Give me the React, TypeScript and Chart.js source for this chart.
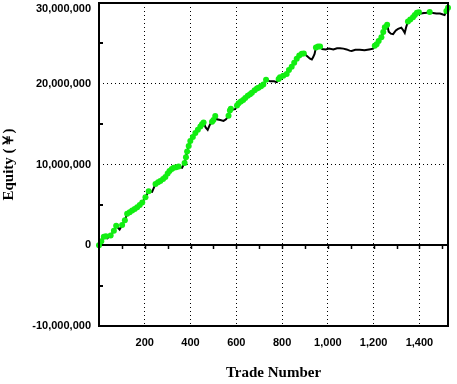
import React, { useEffect, useRef } from "react";
import { Chart, registerables } from "chart.js";

Chart.register(...registerables);

// Trade number for each sampled equity reading
const tradeNumbers = [
  0, 10, 21, 30, 36, 51, 65, 75, 90, 101, 113, 123, 134, 145, 156, 167, 178, 189, 203, 217,
  232, 247, 258, 268, 280, 290, 300, 308, 318, 326, 337, 348, 363, 374, 380, 385, 392, 399, 410, 421,
  432, 443, 450, 457, 466, 475, 484, 494, 500, 508, 515, 530, 544, 555, 566, 572, 576, 585, 595, 603,
  610, 620, 630, 639, 650, 660, 668, 680, 690, 697, 708, 718, 730, 748, 765, 777, 785, 791, 805, 820,
  830, 842, 853, 864, 875, 886, 895, 910, 922, 930, 936, 942, 948, 957, 966, 975, 990, 1005, 1024, 1040,
  1053, 1068, 1082, 1095, 1104, 1120, 1140, 1160, 1180, 1198, 1205, 1213, 1222, 1234, 1242, 1249, 1259, 1266, 1275, 1285,
  1297, 1307, 1321, 1330, 1336, 1342, 1350, 1360, 1372, 1380, 1389, 1398, 1408, 1420, 1432, 1445, 1460, 1474, 1490, 1500,
  1510, 1518, 1525,
];

// Cumulative equity (yen)
const equity = [
  0, 0.5e6, 1.05e6, 1.1e6, 0.85e6, 1.2e6, 1.8e6, 2.4e6, 1.95e6, 2.5e6, 3.1e6, 3.9e6, 4.1e6, 4.3e6, 4.5e6, 4.7e6, 5.0e6, 5.3e6, 5.95e6, 6.7e6,
  6.6e6, 7.6e6, 7.8e6, 7.95e6, 8.2e6, 8.45e6, 8.9e6, 9.2e6, 9.45e6, 9.6e6, 9.65e6, 9.75e6, 9.6e6, 10.2e6, 10.9e6, 11.6e6, 12.3e6, 12.9e6, 13.4e6, 13.9e6,
  14.3e6, 14.7e6, 15.0e6, 15.2e6, 14.6e6, 14.3e6, 14.9e6, 15.3e6, 15.5e6, 16.0e6, 15.6e6, 15.5e6, 15.4e6, 15.6e6, 16.05e6, 16.7e6, 16.9e6, 16.8e6, 16.85e6, 17.3e6,
  17.6e6, 17.8e6, 18.0e6, 18.25e6, 18.5e6, 18.7e6, 18.9e6, 19.2e6, 19.4e6, 19.5e6, 19.7e6, 19.9e6, 20.5e6, 20.3e6, 20.3e6, 20.2e6, 20.6e6, 20.8e6, 21.0e6, 21.2e6,
  21.7e6, 22.1e6, 22.6e6, 23.1e6, 23.5e6, 23.7e6, 23.75e6, 23.4e6, 23.1e6, 23.0e6, 23.3e6, 23.7e6, 24.5e6, 24.6e6, 24.62e6, 24.3e6, 24.25e6, 24.35e6, 24.25e6, 24.4e6,
  24.4e6, 24.35e6, 24.25e6, 24.1e6, 24.05e6, 24.2e6, 24.2e6, 24.15e6, 24.25e6, 24.35e6, 24.7e6, 24.9e6, 25.3e6, 25.75e6, 26.4e6, 27.0e6, 27.3e6, 26.45e6, 26.2e6, 26.15e6,
  26.6e6, 26.8e6, 26.95e6, 26.6e6, 26.3e6, 27.0e6, 27.7e6, 27.95e6, 28.25e6, 28.5e6, 28.8e6, 28.85e6, 28.7e6, 28.75e6, 28.8e6, 28.9e6, 28.75e6, 28.7e6, 28.7e6, 28.6e6,
  28.5e6, 29.0e6, 29.4e6,
];

const xTickValues = [200, 400, 600, 800, 1000, 1200, 1400];
const yTickValues = [-10000000, 0, 10000000, 20000000, 30000000];
const yMinorTicks = [-5000000, 5000000, 15000000, 25000000];
const X_MIN = 0;
const X_MAX = 1525;
const Y_MIN = -10000000;
const Y_MAX = 30000000;

const xTitle = "Trade Number";
const yTitle = "Equity (￥)";

const GREEN = "#12ee12";
const LABEL_FONT = "bold 11px 'Liberation Sans', Arial, sans-serif";
const TITLE_FONT = { family: "'Liberation Serif', 'Times New Roman', serif", weight: "bold", size: 15 };

const fmt = (v: number) => Math.round(v).toLocaleString("en-US");

const framePlugin = {
  id: "frame",
  beforeDatasetsDraw(chart: any) {
    const { ctx, chartArea } = chart;
    const xs = chart.scales.x;
    const ys = chart.scales.y;
    ctx.save();
    ctx.strokeStyle = "#000";
    // zero line
    const y0 = Math.round(ys.getPixelForValue(0));
    ctx.lineWidth = 2;
    ctx.beginPath();
    ctx.moveTo(chartArea.left, y0);
    ctx.lineTo(chartArea.right, y0);
    ctx.stroke();
    // zero-line tick marks every 100 trades
    ctx.lineWidth = 1.5;
    for (let t = 100; t < X_MAX; t += 100) {
      const px = Math.round(xs.getPixelForValue(t)) + 0.5;
      ctx.beginPath();
      ctx.moveTo(px, y0 - 1);
      ctx.lineTo(px, y0 + 4);
      ctx.stroke();
    }
    // minor ticks on left axis
    ctx.lineWidth = 2;
    for (const v of yMinorTicks) {
      const py = Math.round(ys.getPixelForValue(v));
      ctx.beginPath();
      ctx.moveTo(chartArea.left, py);
      ctx.lineTo(chartArea.left + 4, py);
      ctx.stroke();
    }
    ctx.restore();
  },
  afterDraw(chart: any) {
    const { ctx, chartArea } = chart;
    const ys = chart.scales.y;
    ctx.save();
    ctx.strokeStyle = "#000";
    ctx.lineWidth = 2;
    ctx.strokeRect(chartArea.left, chartArea.top, chartArea.right - chartArea.left, chartArea.bottom - chartArea.top);
    // y tick labels
    ctx.fillStyle = "#000";
    ctx.font = LABEL_FONT;
    ctx.textAlign = "right";
    ctx.textBaseline = "middle";
    for (const t of ys.ticks) {
      let py = ys.getPixelForValue(t.value);
      if (py < 9) py = 9;
      if (py > chart.height - 7) py = chart.height - 7;
      ctx.fillText(fmt(t.value), chartArea.left - 8, py);
    }
    ctx.restore();
  },
};

export default function App() {
  const ref = useRef<HTMLCanvasElement>(null);

  useEffect(() => {
    document.body.style.margin = "0";
    const canvas = ref.current;
    if (!canvas) return;

    let runMax = -Infinity;
    const radii = equity.map((v) => {
      if (v >= runMax) {
        runMax = v;
        return 3;
      }
      return 0;
    });

    const chart = new Chart(canvas, {
      type: "line",
      data: {
        datasets: [
          {
            data: tradeNumbers.map((x, i) => ({ x, y: equity[i] })),
            borderColor: "#000",
            borderWidth: 2,
            tension: 0,
            pointRadius: radii,
            pointHoverRadius: radii,
            pointBackgroundColor: GREEN,
            pointBorderWidth: 0,
            clip: false as any,
          },
        ],
      },
      options: {
        responsive: false,
        animation: false,
        events: [],
        layout: { padding: { left: 0, top: 3, right: 9, bottom: 0 } },
        plugins: {
          legend: { display: false },
          tooltip: { enabled: false },
        },
        scales: {
          x: {
            type: "linear",
            min: X_MIN,
            max: X_MAX,
            afterBuildTicks: (s: any) => {
              s.ticks = xTickValues.map((v) => ({ value: v }));
            },
            ticks: {
              padding: 10,
              color: "#000",
              autoSkip: false,
              maxRotation: 0,
              font: { family: "'Liberation Sans', Arial, sans-serif", weight: "bold", size: 11 },
              callback: (v: any) => fmt(Number(v)),
            },
            grid: { color: "#000", lineWidth: 1, drawTicks: false },
            border: { display: false, dash: [1, 3] },
            title: {
              display: true,
              text: xTitle,
              color: "#000",
              font: TITLE_FONT,
              padding: { top: 0, bottom: 2 },
            },
            afterFit: (s: any) => {
              s.height = 58;
              s.paddingLeft = 0;
              s.paddingRight = 0;
            },
          },
          y: {
            type: "linear",
            min: Y_MIN,
            max: Y_MAX,
            afterBuildTicks: (s: any) => {
              s.ticks = yTickValues.map((v) => ({ value: v }));
            },
            ticks: { display: false },
            grid: {
              drawTicks: false,
              lineWidth: 1,
              color: (c: any) =>
                c.tick && c.tick.value !== Y_MIN && c.tick.value !== Y_MAX && c.tick.value !== 0
                  ? "#000"
                  : "rgba(0,0,0,0)",
            },
            border: { display: false, dash: [1, 3] },
            title: {
              display: true,
              text: yTitle,
              color: "#000",
              font: TITLE_FONT,
              padding: { top: 0, bottom: 0 },
            },
            afterFit: (s: any) => {
              s.width = 99;
              s.paddingTop = 0;
              s.paddingBottom = 0;
            },
          },
        },
      } as any,
      plugins: [framePlugin],
    });

    return () => chart.destroy();
  }, []);

  return (
    <div style={{ width: 457, height: 384 }}>
      <canvas ref={ref} width={457} height={384} style={{ display: "block" }} />
    </div>
  );
}
